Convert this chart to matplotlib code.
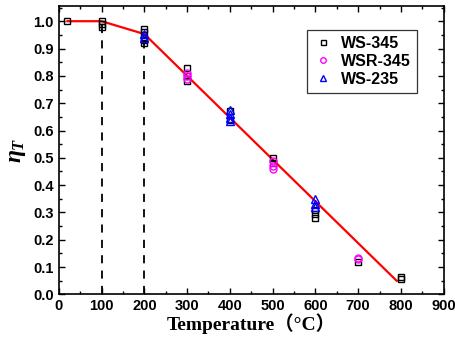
import matplotlib
matplotlib.use("Agg")
import matplotlib.pyplot as plt
from matplotlib.ticker import MultipleLocator

# fitted reduction line
line_t = [20, 100, 200, 790]
line_eta = [1.0, 1.0, 0.953, 0.05]

# test data
ws345_t = [20, 100, 100, 100, 200, 200, 200, 200, 200, 300, 300, 300, 400, 400,
           500, 500, 600, 600, 600, 700, 800, 800]
ws345_eta = [1.0, 1.0, 0.99, 0.98, 0.97, 0.96, 0.94, 0.93, 0.92, 0.83, 0.80, 0.78,
             0.67, 0.64, 0.50, 0.48, 0.31, 0.295, 0.28, 0.12, 0.065, 0.055]
wsr345_t = [300, 300, 300, 500, 500, 500, 700, 700]
wsr345_eta = [0.81, 0.80, 0.79, 0.49, 0.47, 0.46, 0.135, 0.13]
ws235_t = [200, 200, 400, 400, 400, 400, 600, 600, 600]
ws235_eta = [0.955, 0.94, 0.675, 0.66, 0.645, 0.635, 0.35, 0.33, 0.32]

vlines_t = [100, 200]
vlines_top = [1.0, 0.953]

plt.rcParams['font.family'] = ['Liberation Sans', 'DejaVu Sans']
plt.rcParams['font.weight'] = 'bold'
plt.rcParams['mathtext.fontset'] = 'custom'
plt.rcParams['mathtext.it'] = 'Liberation Serif:italic:bold'
plt.rcParams['mathtext.rm'] = 'Liberation Serif:bold'

fig = plt.figure(figsize=(4.56, 3.4), dpi=100)
ax = fig.add_axes([0.129, 0.134, 0.844, 0.847])

for t, top in zip(vlines_t, vlines_top):
    ax.plot([t, t], [0, top], color='black', ls=(0, (4.5, 4)), lw=1.3, zorder=1)

ax.plot(line_t, line_eta, color='red', lw=1.6, zorder=2)

ax.plot(ws345_t, ws345_eta, ls='none', marker='s', ms=4.5, mfc='none',
        mec='black', mew=1.0, label='WS-345', zorder=3)
ax.plot(wsr345_t, wsr345_eta, ls='none', marker='o', ms=5, mfc='none',
        mec='magenta', mew=1.0, label='WSR-345', zorder=4)
ax.plot(ws235_t, ws235_eta, ls='none', marker='^', ms=5.2, mfc='none',
        mec='blue', mew=1.0, label='WS-235', zorder=5)

ax.set_xlim(0, 900)
ax.set_ylim(0, 1.054)
ax.xaxis.set_major_locator(MultipleLocator(100))
ax.xaxis.set_minor_locator(MultipleLocator(50))
ax.yaxis.set_major_locator(MultipleLocator(0.1))
ax.yaxis.set_minor_locator(MultipleLocator(0.05))
ax.yaxis.set_major_formatter(plt.FormatStrFormatter('%.1f'))
ax.tick_params(which='both', direction='in', top=True, right=True, labelsize=10.5)
ax.tick_params(which='major', length=4, width=1)
ax.tick_params(which='minor', length=2, width=1)
for s in ax.spines.values():
    s.set_linewidth(1.2)

ax.set_xlabel('Temperature（°C）', family=['Liberation Serif', 'Noto Sans CJK SC'],
              fontsize=14, fontweight='bold', labelpad=0)
ax.set_ylabel(r'$\eta_T$', fontsize=17, labelpad=4)

leg = ax.legend(loc='upper right', bbox_to_anchor=(0.93, 0.918), borderaxespad=0,
                frameon=True, fancybox=False, edgecolor='black', fontsize=11.5,
                handletextpad=0.5, borderpad=0.35, labelspacing=0.2,
                handlelength=1.3, markerscale=0.8)
leg.get_frame().set_linewidth(0.9)

fig.savefig('out.png', dpi=100)
